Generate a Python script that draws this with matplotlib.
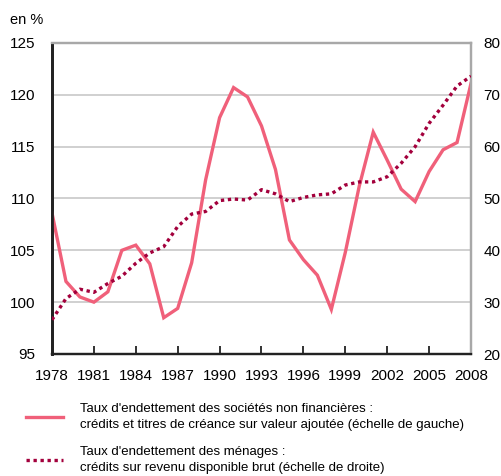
import numpy as np
import matplotlib.pyplot as plt
from matplotlib.lines import Line2D

plt.rcParams['font.family'] = ['Liberation Sans', 'DejaVu Sans']

years = list(range(1978, 2009))
# taux d'endettement des sociétés non financières (échelle de gauche)
snf = [108.6, 102.0, 100.5, 100.0, 101.0, 105.0, 105.5, 103.7, 98.5, 99.4,
       103.8, 111.8, 117.8, 120.7, 119.8, 117.0, 112.8, 106.0, 104.1, 102.6,
       99.3, 104.8, 111.2, 116.4, 113.7, 110.9, 109.7, 112.6, 114.7, 115.4,
       121.1]
# taux d'endettement des ménages (échelle de droite)
menages = [26.6, 30.7, 32.5, 31.9, 33.6, 35.0, 37.5, 39.5, 40.7, 44.6,
           47.0, 47.5, 49.6, 49.9, 49.7, 51.7, 50.9, 49.4, 50.2, 50.7,
           50.9, 52.6, 53.2, 53.2, 54.2, 56.8, 60.0, 64.5, 68.0, 71.7,
           73.6]

xticks = list(range(1978, 2009, 3))
lticks = [95, 100, 105, 110, 115, 120, 125]
rticks = [20, 30, 40, 50, 60, 70, 80]

pink = '#f0607a'
maroon = '#a3003c'

fig = plt.figure(figsize=(5.02, 4.76), dpi=100)
ax1 = fig.add_axes([52/502, 1-354/476, (471-52)/502, (354-43)/476])
ax2 = ax1.twinx()

for v in lticks[1:-1]:
    ax1.axhline(v, color='#c8c8c8', lw=1.2, zorder=0)

ax1.plot(years, snf, color=pink, lw=2.4, solid_joinstyle='miter', zorder=3)
ax2.plot(years, menages, color=maroon, lw=2.4, linestyle=(0, (1, 1.1)),
         dash_capstyle='butt', zorder=3)

ax1.set_xlim(1978, 2008)
ax1.set_ylim(95, 125)
ax2.set_ylim(20, 80)
ax1.set_xticks(xticks)
ax1.set_yticks(lticks)
ax2.set_yticks(rticks)

ax1.tick_params(axis='x', direction='in', length=6, width=1.3, color='#222222',
                labelsize=11, pad=11)
ax1.tick_params(axis='y', length=0, labelsize=11, pad=12)
ax2.tick_params(axis='y', length=0, labelsize=11, pad=9)

for a in (ax1, ax2):
    a.spines['left'].set_color('#222222')
    a.spines['left'].set_linewidth(2.0)
    a.spines['bottom'].set_color('#222222')
    a.spines['bottom'].set_linewidth(1.6)
    a.spines['top'].set_color('#a8a8a8')
    a.spines['top'].set_linewidth(1.6)
    a.spines['right'].set_color('#a8a8a8')
    a.spines['right'].set_linewidth(1.6)

fig.text(10/502, 1-20/476, 'en %', fontsize=10.5, va='center', ha='left')

handles = [Line2D([], [], color=pink, lw=2.4),
           Line2D([], [], color=maroon, lw=2.4, linestyle=(0, (1, 1.1)))]
labels = ["Taux d'endettement des sociétés non financières :\n"
          "crédits et titres de créance sur valeur ajoutée (échelle de gauche)",
          "Taux d'endettement des ménages :\n"
          "crédits sur revenu disponible brut (échelle de droite)"]
leg = fig.legend(handles, labels, loc='upper left', bbox_to_anchor=(26/502, 1-403/476),
                 frameon=False, fontsize=9.5, handlelength=2.8, handletextpad=1.3,
                 labelspacing=1.12, borderpad=0, borderaxespad=0)
for t in leg.get_texts():
    t.set_linespacing(1.45)

fig.savefig('out.png', dpi=100)
